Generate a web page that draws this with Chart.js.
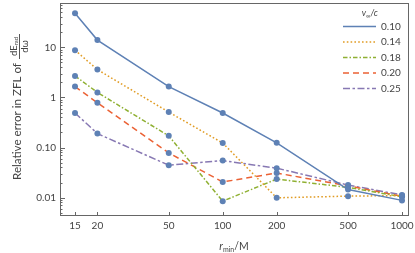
<!DOCTYPE html>
<html>
<head>
<meta charset="utf-8">
<script src="https://cdn.jsdelivr.net/npm/chart.js@4.4.1/dist/chart.umd.min.js"></script>
<style>
  html, body { margin: 0; padding: 0; background: #fff; }
  #wrap { width: 415px; height: 253px; }
</style>
</head>
<body>
<div id="wrap"><canvas id="chart" width="415" height="253"></canvas></div>
<script>
// r_min / M
const rMin = [15, 20, 50, 100, 200, 500, 1000];

// relative error, one array per v_inf/c
const err010 = [48, 14, 1.65, 0.49, 0.124, 0.0145, 0.0088];
const err014 = [8.8, 3.6, 0.51, 0.123, 0.0099, 0.0107, 0.011];
const err018 = [2.7, 1.26, 0.171, 0.0085, 0.0234, 0.016, 0.0104];
const err020 = [1.65, 0.785, 0.078, 0.0205, 0.031, 0.0172, 0.0106];
const err025 = [0.49, 0.19, 0.0444, 0.0548, 0.0387, 0.0178, 0.0113];

const seriesLabels = ['0.10', '0.14', '0.18', '0.20', '0.25'];
const xTickValues = [15, 20, 50, 100, 200, 500, 1000];
const yTickValues = [0.01, 0.1, 1, 10];
const yTickLabels = ['0.01', '0.10', '1', '10'];

const textColor = '#444';
const frameColor = '#666';
const pointColor = '#5E81B5';
const fontFam = 'Lato, "Open Sans", sans-serif';

function pairs(ys) {
   return rMin.map((x, i) => ({ x: x, y: ys[i] }));
}

function makeSet(label, ys, color, dash) {
   return {
      label: label,
      data: pairs(ys),
      borderColor: color,
      borderWidth: 1.5,
      borderDash: dash,
      pointRadius: 3,
      pointBackgroundColor: pointColor,
      pointBorderWidth: 0,
      pointHoverRadius: 3,
      tension: 0,
      fill: false,
   };
}

// frame, inner ticks, axis titles, legend
const decorPlugin = {
   id: 'decor',
   afterDraw(chart) {
      const ctx = chart.ctx;
      const a = chart.chartArea;
      const xs = chart.scales.x;
      const ys = chart.scales.y;
      ctx.save();

      // frame
      ctx.strokeStyle = frameColor;
      ctx.lineWidth = 1;
      ctx.strokeRect(a.left + 0.5, a.top + 0.5, a.right - a.left - 1, a.bottom - a.top - 1);

      // x ticks (inside)
      ctx.beginPath();
      xTickValues.forEach(v => {
         const px = Math.round(xs.getPixelForValue(v)) + 0.5;
         ctx.moveTo(px, a.bottom);
         ctx.lineTo(px, a.bottom - 4);
      });
      // y ticks (inside), major and minor
      const lo = Math.floor(Math.log10(ys.min));
      const hi = Math.ceil(Math.log10(ys.max));
      for (let d = lo; d <= hi; d++) {
         for (let k = 1; k <= 9; k++) {
            const v = k * Math.pow(10, d);
            if (v < ys.min || v > ys.max) continue;
            const py = Math.round(ys.getPixelForValue(v)) + 0.5;
            ctx.moveTo(a.left, py);
            ctx.lineTo(a.left + (k === 1 ? 5 : 2.5), py);
         }
      }
      ctx.stroke();

      ctx.fillStyle = textColor;

      // y title (rotated), sized to run from y=180 up to y=63
      const title = 'Relative error in ZFL of';
      ctx.font = '10px ' + fontFam;
      const tSize = 10 * 117 / ctx.measureText(title).width;
      ctx.save();
      ctx.translate(20.5, 180);
      ctx.rotate(-Math.PI / 2);
      ctx.font = tSize.toFixed(2) + 'px ' + fontFam;
      ctx.textAlign = 'left';
      ctx.textBaseline = 'alphabetic';
      ctx.fillText(title, 0, 0);
      ctx.restore();

      // fraction dE_rad / dω
      ctx.save();
      ctx.translate(0, 46.5);
      ctx.rotate(-Math.PI / 2);
      ctx.textBaseline = 'alphabetic';
      ctx.font = '9.5px ' + fontFam;
      const wNum = ctx.measureText('dE').width;
      ctx.font = '6px ' + fontFam;
      const wSub = ctx.measureText('rad').width;
      const numStart = -(wNum + wSub) / 2;
      ctx.font = '9.5px ' + fontFam;
      ctx.textAlign = 'left';
      ctx.fillText('dE', numStart, 16.5);
      ctx.font = '6px ' + fontFam;
      ctx.fillText('rad', numStart + wNum, 17.5);
      ctx.font = '9.5px ' + fontFam;
      ctx.textAlign = 'center';
      ctx.fillText('d\u03C9', 0, 27.5);
      ctx.fillRect(-12.5, 19, 25, 0.9);
      ctx.restore();

      // x title r_min/M
      ctx.textAlign = 'left';
      ctx.textBaseline = 'alphabetic';
      ctx.font = 'italic 10.5px ' + fontFam;
      const wr = ctx.measureText('r').width;
      ctx.font = '7px ' + fontFam;
      const wm = ctx.measureText('min').width;
      ctx.font = '10.5px ' + fontFam;
      const wM = ctx.measureText('/M').width;
      let tx = 234 - (wr + wm + wM) / 2;
      ctx.font = 'italic 10.5px ' + fontFam;
      ctx.fillText('r', tx, 250);
      ctx.font = '7px ' + fontFam;
      ctx.fillText('min', tx + wr, 252);
      ctx.font = '10.5px ' + fontFam;
      ctx.fillText('/M', tx + wr + wm, 250);

      // legend
      ctx.font = 'italic 9px ' + fontFam;
      const wv = ctx.measureText('v').width;
      ctx.font = '6px ' + fontFam;
      const wi = ctx.measureText('\u221E').width;
      ctx.font = '9px ' + fontFam;
      const wc = ctx.measureText('/c').width;
      let lx = 370 - (wv + wi + wc) / 2;
      ctx.font = 'italic 9px ' + fontFam;
      ctx.fillText('v', lx, 16);
      ctx.font = '6px ' + fontFam;
      ctx.fillText('\u221E', lx + wv, 17.5);
      ctx.font = 'italic 9px ' + fontFam;
      ctx.fillText('/c', lx + wv + wi, 16);

      chart.data.datasets.forEach((ds, i) => {
         const ry = 26.5 + i * 15.5;
         ctx.save();
         ctx.strokeStyle = ds.borderColor;
         ctx.lineWidth = ds.borderWidth;
         ctx.setLineDash(ds.borderDash || []);
         ctx.beginPath();
         ctx.moveTo(343, ry);
         ctx.lineTo(376, ry);
         ctx.stroke();
         ctx.restore();
         ctx.font = '10px ' + fontFam;
         ctx.textBaseline = 'middle';
         ctx.fillStyle = textColor;
         ctx.fillText(ds.label, 381, ry);
      });

      ctx.restore();
   }
};

const ctx = document.getElementById('chart').getContext('2d');

const chart = new Chart(ctx, {
   type: 'line',
   data: {
      datasets: [
         makeSet(seriesLabels[0], err010, '#5E81B5', []),
         makeSet(seriesLabels[1], err014, '#E19C24', [1.6, 2.2]),
         makeSet(seriesLabels[2], err018, '#8FB032', [4.5, 2, 1.5, 2]),
         makeSet(seriesLabels[3], err020, '#EB6235', [6, 4]),
         makeSet(seriesLabels[4], err025, '#8778B3', [7, 2.5, 2.5, 2.5]),
      ],
   },
   options: {
      responsive: false,
      animation: false,
      devicePixelRatio: 1,
      layout: { padding: { left: 0, right: 6, top: 0, bottom: 0 } },
      plugins: {
         legend: { display: false },
         tooltip: { enabled: false },
      },
      scales: {
         x: {
            type: 'logarithmic',
            bounds: 'data',
            min: 12.37,
            max: 1094,
            afterBuildTicks: s => { s.ticks = xTickValues.map(v => ({ value: v })); },
            afterFit: s => { s.height = 37; s.paddingLeft = 0; s.paddingRight = 0; },
            ticks: {
               autoSkip: false,
               maxRotation: 0,
               padding: 4,
               color: textColor,
               font: { family: fontFam, size: 10 },
               callback: v => String(v),
            },
            grid: { display: false, drawTicks: false },
            border: { display: false },
         },
         y: {
            type: 'logarithmic',
            bounds: 'data',
            min: 0.00429,
            max: 77.1,
            afterBuildTicks: s => { s.ticks = yTickValues.map(v => ({ value: v })); },
            afterFit: s => { s.width = 60; s.paddingTop = 0; s.paddingBottom = 0; },
            ticks: {
               autoSkip: false,
               padding: 4,
               color: textColor,
               font: { family: fontFam, size: 10 },
               callback: (v, i) => yTickLabels[i],
            },
            grid: { display: false, drawTicks: false },
            border: { display: false },
         },
      },
   },
   plugins: [decorPlugin],
});
</script>
</body>
</html>
